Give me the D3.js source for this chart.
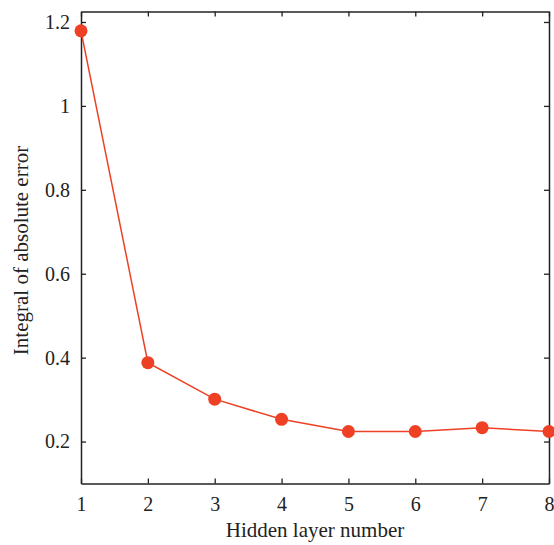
<!DOCTYPE html>
<html>
<head>
<meta charset="utf-8">
<script src="https://cdn.jsdelivr.net/npm/d3@7"></script>
<style>
  html, body { margin: 0; padding: 0; background: #fff; }
  svg { display: block; }
  text { font-family: "Liberation Serif", "DejaVu Serif", serif; fill: #222; }
</style>
</head>
<body>
<svg id="chart" width="554" height="545"></svg>
<script>
// Hidden layer count vs. integral of absolute error
const layers = [1, 2, 3, 4, 5, 6, 7, 8];
const errors = [1.179, 0.388, 0.301, 0.253, 0.224, 0.224, 0.233, 0.224];
const yTicks = [0.2, 0.4, 0.6, 0.8, 1, 1.2];
const xTicks = [1, 2, 3, 4, 5, 6, 7, 8];

const W = 554, H = 545;
const m = { left: 81, right: 5, top: 11.5, bottom: 61.5 };
const svg = d3.select("#chart");

const x = d3.scaleLinear().domain([1, 8]).range([m.left, W - m.right]);
const y = d3.scaleLinear().domain([0.1, 1.225]).range([H - m.bottom, m.top]);

const tickLen = 5;
const fmt = d => String(d);

// frame axes with inward ticks on all four sides
const axes = [
  { g: d3.axisBottom(x).tickValues(xTicks).tickFormat(fmt), t: `translate(0,${H - m.bottom})` },
  { g: d3.axisTop(x).tickValues(xTicks).tickFormat(""), t: `translate(0,${m.top})` },
  { g: d3.axisLeft(y).tickValues(yTicks).tickFormat(fmt), t: `translate(${m.left},0)` },
  { g: d3.axisRight(y).tickValues(yTicks).tickFormat(""), t: `translate(${W - m.right},0)` }
];
axes.forEach((a, i) => {
  const g = svg.append("g").attr("transform", a.t)
    .call(a.g.tickSizeInner(-tickLen).tickSizeOuter(0).tickPadding(i < 2 ? 13 : 11));
  g.select(".domain").attr("stroke", "#222").attr("stroke-width", 1.5);
  g.selectAll(".tick line").attr("stroke", "#222").attr("stroke-width", 1.3);
  g.selectAll(".tick text").style("font-size", "20px").attr("fill", "#222");
});

// series
const line = d3.line().x((d, i) => x(layers[i])).y(d => y(d));
svg.append("path")
  .datum(errors)
  .attr("d", line)
  .attr("fill", "none")
  .attr("stroke", "#ee4025")
  .attr("stroke-width", 1.5);

svg.selectAll("circle.pt")
  .data(errors)
  .join("circle")
  .attr("class", "pt")
  .attr("cx", (d, i) => x(layers[i]))
  .attr("cy", d => y(d))
  .attr("r", 6.5)
  .attr("fill", "#ee4025");

// axis titles
svg.append("text")
  .attr("x", (m.left + W - m.right) / 2)
  .attr("y", 537)
  .attr("text-anchor", "middle")
  .style("font-size", "21px")
  .text("Hidden layer number");

svg.append("text")
  .attr("transform", `translate(28,${(m.top + H - m.bottom) / 2 + 3}) rotate(-90)`)
  .attr("text-anchor", "middle")
  .style("font-size", "21px")
  .text("Integral of absolute error");
</script>
</body>
</html>
